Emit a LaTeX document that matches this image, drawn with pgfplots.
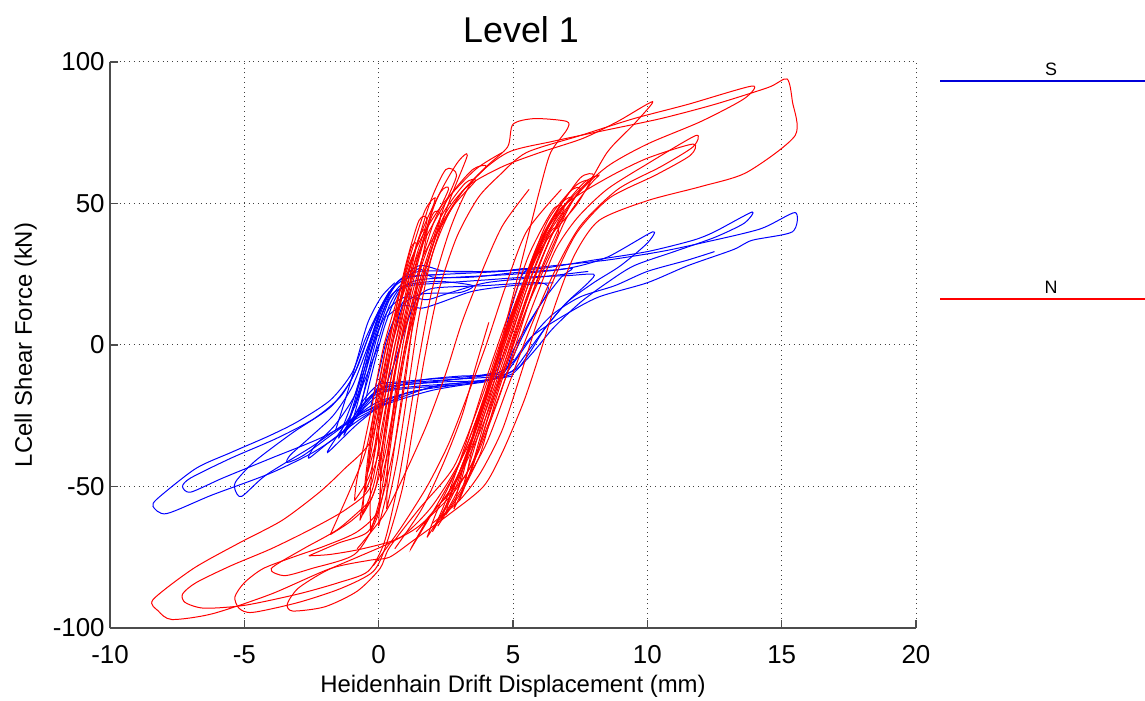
\documentclass[border=0pt]{standalone}
\usepackage{pgfplots}
\pgfplotsset{compat=1.18}
\usepackage{fontspec}
\setmainfont{Liberation Sans}
\begin{document}
\begin{tikzpicture}
\path[use as bounding box] (-55bp,-36.5bp) rectangle (517.5bp,314bp);
\begin{axis}[
 at={(0,0)}, anchor=south west,
 scale only axis, width=403bp, height=283bp,
 xmin=-10, xmax=20, ymin=-100, ymax=100,
 xtick={-10,-5,0,5,10,15,20}, ytick={-100,-50,0,50,100},
 axis x line=bottom, axis y line=left,
 axis line style={-, black!70, line width=0.6pt},
 tick align=inside, major tick length=4bp,
 tick style={black!70, line width=0.6pt},
 grid=major, grid style={black!75, dotted, line width=0.5pt},
 /pgf/number format/assume math mode=true,
 ticklabel style={font=\fontsize{13}{15}\selectfont},
 xticklabel style={anchor=north, inner sep=0pt, yshift=-8.5bp},
 yticklabel style={anchor=east, inner sep=0pt, xshift=-2.5bp},
 every axis title shift=0pt,
 title={Level 1},
 title style={font=\fontsize{18}{21}\selectfont, at={(axis description cs:0.51,1.0353)}, anchor=base},
 xlabel={Heidenhain Drift Displacement (mm)},
 xlabel style={font=\fontsize{12}{14}\selectfont, at={(axis description cs:0.5,-0.1148)}, anchor=base},
 ylabel={LCell Shear Force (kN)},
 ylabel style={font=\fontsize{12}{14}\selectfont, at={(axis description cs:-0.097,0.5)}, anchor=base},
 every axis plot/.append style={line width=0.5pt, mark=none, smooth, tension=0.45},
 clip=true,
]
% ---------------- S (blue) ----------------
\addplot[blue] coordinates {(-1.0,-28) (-0.6,-14) (-0.3,-2) (0.1,10) (0.5,18) (1.2,21) (2.5,22) (4,23) (5.5,24) (7,24.5) (8,25) (7.8,22) (7.0,15) (6.2,6) (5.6,-3) (5.0,-10) (4.0,-12.5) (2.5,-13) (1.0,-14) (0.2,-15) (-0.4,-19) (-1.0,-28)};
\addplot[blue] coordinates {(-0.7,-24) (-0.4,-10) (0.0,5) (0.4,16) (0.9,22) (1.5,27) (2,24) (3.5,24) (5,25.5) (6.5,26.5) (7.2,27) (6.8,24) (6.0,14) (5.3,2) (4.8,-8) (4.3,-12) (3,-14) (1.5,-15) (0.5,-16) (-0.2,-18) (-0.7,-24)};
\addplot[blue] coordinates {(-1.3,-32) (-0.9,-20) (-0.5,-5) (-0.1,8) (0.3,17) (0.8,23) (1.5,26) (3,26) (4.5,26) (5.5,27) (5.3,24) (4.9,12) (4.6,0) (4.4,-9) (3.5,-11) (2,-12) (0.8,-13) (0,-14) (-0.6,-20) (-1.3,-32)};
\addplot[blue] coordinates {(-0.8,-25) (-0.4,-12) (0.0,2) (0.4,14) (0.8,20) (1.5,23) (3,24) (5,25) (7,27) (8.5,31) (10.2,40) (10.0,36) (9.0,28) (8.0,22) (7.0,15) (6.2,6) (5.5,-3) (5.0,-9) (4.2,-12) (3,-13.5) (1.5,-14.5) (0.3,-16) (-0.3,-20) (-0.8,-25)};
\addplot[blue] coordinates {(-1.2,-30) (-0.7,-15) (-0.3,0) (0.2,13) (0.6,21) (1.5,28) (2.5,26) (4,26) (6,27) (8,30) (10,33) (11.7,37) (12.5,40) (13.9,47) (13.6,43) (12.5,38) (11,33) (9.5,28) (8.5,22) (7.5,15) (6.5,6) (5.8,-2) (5.2,-8) (4.5,-11) (3,-12) (1.5,-13) (0.4,-14) (-0.3,-18) (-1.2,-30)};
\addplot[blue] coordinates {(-1.5,-33) (-0.9,-18) (-0.4,-2) (0.1,12) (0.5,20) (1,24) (2.5,25) (4.5,26) (6.5,28) (8.5,30) (10.5,33) (12,36) (14.2,41) (15.5,46.8) (15.4,40) (13.9,37) (13.2,33.7) (11.5,28) (10,22) (8.2,17) (7,11) (5.7,3) (5.0,-6) (4.4,-10) (3,-12) (1.5,-13.5) (0.3,-15) (-0.5,-20) (-1.5,-33)};
\addplot[blue] coordinates {(-0.5,-20) (-0.2,-8) (0.2,6) (0.6,16) (1.0,21) (2.2,22.5) (3.5,21) (3,18.5) (1.6,18) (0.9,14) (0.6,4) (0.3,-8) (-0.1,-16) (-0.5,-20)};
\addplot[blue] coordinates {(0.2,-16) (0.6,-6) (1.0,6) (1.4,16) (2,20) (4,21) (6,22) (6.3,19) (5.6,8) (5.0,-2) (4.6,-10) (3.0,-11) (1.5,-12.5) (0.2,-16)};
\addplot[blue] coordinates {(0.3,10) (0.9,14) (1.6,13) (2.3,15) (3.5,19) (5,21) (6.5,22)};
\addplot[blue] coordinates {(-0.9,-22) (-0.5,-10) (-0.1,3) (0.4,13) (1.0,17) (1.8,16) (2.5,18) (4,22) (6,24) (7.8,26)};
\addplot[blue] coordinates {(4.6,-12) (5.2,-4) (5.8,4) (6.5,11) (7.5,17) (8.8,21) (10,26) (11.5,30) (12.5,33)};
\addplot[blue] coordinates {(-1.6,-30) (-1.2,-18) (-0.8,-5) (-0.4,8) (0.1,17) (0.6,22)};
\addplot[blue] coordinates {(-0.3,-22) (0.0,-10) (0.3,2) (0.7,12) (1.2,19)};
\addplot[blue] coordinates {(5,-11) (3.5,-13) (1.9,-15) (-0.6,-24) (-1.2,-30) (-2.45,-38) (-4.05,-45.4) (-6.2,-53) (-7.9,-59.6) (-8.4,-57) (-8.2,-54) (-6.8,-43.6) (-5.5,-38) (-4.05,-32) (-3.0,-27) (-1.8,-19.5) (-1.0,-10) (-0.5,2) (0.0,12) (0.5,20) (1.2,24) (2.5,25)};
\addplot[blue] coordinates {(4,-13) (2,-16) (0,-22) (-2.1,-32.6) (-4,-40) (-5.8,-47) (-7.0,-52) (-7.3,-50) (-7.0,-47) (-5.5,-40) (-3.8,-33) (-2.4,-26) (-1.4,-18) (-0.8,-8) (-0.3,5) (0.2,15) (0.7,22)};
\addplot[blue] coordinates {(3,-14) (1,-17) (-0.8,-25) (-2.5,-36) (-4.2,-46) (-5.1,-53.5) (-5.35,-51) (-5.3,-48) (-4.6,-41) (-3.2,-31) (-1.8,-22) (-1.0,-12) (-0.5,0) (0.0,12) (0.4,19)};
\addplot[blue] coordinates {(2,-15) (0,-20) (-1.5,-30) (-2.8,-39) (-3.4,-41.5) (-3.3,-39) (-2.6,-33) (-1.7,-25) (-1.0,-15) (-0.5,-3) (0,10)};
\addplot[blue] coordinates {(1,-17) (-0.5,-25) (-1.8,-34) (-2.6,-40) (-2.4,-36) (-1.6,-28) (-0.9,-18) (-0.4,-5) (0.1,8)};
\addplot[blue] coordinates {(0.5,-18) (-0.8,-28) (-1.9,-38) (-1.6,-33) (-1.0,-24) (-0.5,-12) (0,0)};
% ---------------- N (red) ----------------
\addplot[red] coordinates {(-0.6,-60) (-0.1,-50) (0.3,-25) (0.8,0) (1.6,25) (2.4,48) (2.9,60) (2.5,62) (1.9,50) (1.1,25) (0.3,0) (-0.2,-25) (-0.5,-48) (-0.6,-60)};
\addplot[red] coordinates {(-0.3,-66) (0.1,-52) (0.5,-27) (1.0,0) (1.8,26) (2.6,50) (3.3,67) (2.9,64) (2.1,50) (1.3,26) (0.5,0) (0.0,-26) (-0.3,-50) (-0.3,-66)};
\addplot[red] coordinates {(-0.9,-55) (-0.3,-45) (0.15,-22) (0.6,0) (1.3,25) (1.9,45) (2.1,52) (1.7,47) (1.0,26) (0.2,0) (-0.3,-24) (-0.8,-47) (-0.9,-55)};
\addplot[red] coordinates {(0.1,-48) (0.5,-30) (0.9,-5) (1.4,20) (1.8,40) (1.5,38) (0.9,18) (0.4,-5) (0.0,-30) (0.1,-48)};
\addplot[red] coordinates {(-1.8,-67) (-1.0,-62) (-0.3,-55) (0.2,-40) (0.6,-20) (1.0,0) (1.5,20) (2.2,40) (3.1,54) (4.0,63) (3.5,62) (2.6,52) (1.6,35) (0.8,15) (0.3,0) (-0.1,-20) (-0.5,-38) (-1.1,-52) (-1.8,-67)};
\addplot[red] coordinates {(-0.4,-45) (0.0,-30) (0.5,-5) (1.0,18) (1.4,35) (1.2,34) (0.7,15) (0.2,-8) (-0.2,-28) (-0.4,-45)};
\addplot[red] coordinates {(-0.7,-62) (-0.2,-50) (0.25,-30) (0.7,-5) (1.3,20) (2.0,42) (2.6,55) (2.3,54) (1.6,40) (0.9,20) (0.4,-2) (-0.1,-28) (-0.5,-50) (-0.7,-62)};
\addplot[red] coordinates {(0.3,-58) (0.7,-40) (1.1,-15) (1.5,10) (2.0,32) (2.7,48) (3.6,58) (3.2,57) (2.3,45) (1.6,28) (1.0,5) (0.6,-18) (0.35,-40) (0.3,-58)};
\addplot[red] coordinates {(-0.5,-52) (0.0,-38) (0.4,-15) (0.85,8) (1.3,28) (1.8,44) (1.5,44) (1.0,28) (0.5,6) (0.1,-15) (-0.3,-35) (-0.5,-52)};
\addplot[red] coordinates {(0.0,-64) (0.4,-48) (0.8,-22) (1.2,3) (1.7,25) (2.3,45) (2.0,46) (1.4,27) (0.9,5) (0.45,-20) (0.1,-45) (0.0,-64)};
\addplot[red] coordinates {(-2.6,-74.5) (-1.5,-70) (-0.4,-66) (0.1,-55) (0.6,-35) (1.0,-12) (1.3,10) (1.6,30) (2.4,43) (3.1,54) (4.0,63) (4.8,70) (5.0,78) (5.8,80) (7.0,79) (7.0,76) (6.4,68) (6.0,55) (5.6,40) (5.2,25) (4.8,10) (4.3,-8) (3.6,-30) (2.8,-45) (1.9,-58) (0.8,-68) (-0.6,-72) (-1.8,-74) (-2.6,-74.5)};
\addplot[red] coordinates {(2.3,-62) (3.0,-50) (3.7,-25) (4.6,0) (5.5,25) (6.5,45) (7.2,52) (6.8,50) (5.9,35) (5.0,12) (4.2,-10) (3.4,-35) (2.7,-52) (2.3,-62)};
\addplot[red] coordinates {(2.8,-58) (3.4,-45) (4.1,-22) (5.0,2) (5.8,24) (6.7,44) (7.5,55) (7.1,54) (6.2,40) (5.3,18) (4.5,-5) (3.7,-28) (3.1,-45) (2.8,-58)};
\addplot[red] coordinates {(1.8,-68) (2.6,-55) (3.5,-32) (4.3,-8) (5.1,15) (6.0,35) (7.0,50) (7.8,58) (7.3,56) (6.3,44) (5.4,22) (4.7,2) (3.9,-20) (3.0,-42) (2.2,-58) (1.8,-68)};
\addplot[red] coordinates {(3.2,-50) (3.8,-38) (4.4,-18) (5.2,5) (6.0,25) (6.7,40) (6.4,40) (5.6,22) (4.9,3) (4.1,-18) (3.5,-36) (3.2,-50)};
\addplot[red] coordinates {(2.5,-60) (3.3,-48) (4.0,-28) (4.8,-5) (5.6,18) (6.4,38) (7.3,52) (8.0,60) (7.5,59) (6.5,45) (5.7,28) (4.9,6) (4.1,-16) (3.3,-38) (2.7,-52) (2.5,-60)};
\addplot[red] coordinates {(3.0,-55) (3.6,-40) (4.3,-18) (5.0,3) (5.7,22) (6.4,38) (6.9,46) (6.5,45) (5.8,30) (5.1,10) (4.4,-10) (3.7,-32) (3.2,-48) (3.0,-55)};
\addplot[red] coordinates {(2.0,-66) (2.8,-52) (3.6,-30) (4.4,-6) (5.2,16) (6.1,36) (6.9,48) (6.5,48) (5.6,32) (4.8,10) (4.0,-12) (3.2,-36) (2.5,-55) (2.0,-66)};
\addplot[red] coordinates {(-0.2,-78) (0.8,-65) (1.8,-50) (2.6,-35) (3.3,-18) (4.0,0) (4.7,20) (5.5,40) (6.8,55)};
\addplot[red] coordinates {(-0.8,-72) (0.2,-60) (1.0,-45) (1.8,-28) (2.5,-10) (3.1,8) (3.8,25) (4.6,42) (5.6,55)};
\addplot[red] coordinates {(0.6,-72) (1.6,-58) (2.4,-42) (3.1,-25) (3.6,-8) (4.1,8)};
\addplot[red] coordinates {(-0.3,-55) (-1.5,-65) (-2.8,-72) (-4.0,-79) (-3.5,-81.5) (-2.5,-79) (-0.9,-74) (-0.1,-62) (0.25,-48) (0.6,-25) (1.05,0) (1.7,25) (2.4,45) (3.3,56) (4.6,63) (6.0,68) (7.6,73) (8.9,79) (10.2,86) (9.5,78) (8.5,68) (7.4,50) (6.1,35) (5.3,18) (4.6,0) (3.8,-22) (3.0,-42) (2.2,-56) (1.2,-72) (1.8,-62) (2.9,-48) (3.8,-30) (4.8,-5) (5.6,15) (6.4,32) (7.0,45) (7.9,57) (8.2,60) (7.6,57) (6.6,45) (5.7,25) (5.0,5) (4.3,-15) (3.5,-35) (2.6,-52) (1.4,-66) (2.1,-58) (3.3,-45) (4.2,-25) (5.1,-2) (5.9,18) (6.6,34) (7.4,45) (8.5,55) (10,64) (11.8,74) (11.7,70) (10.5,63) (8.9,55) (7.5,42) (6.5,25) (5.6,5) (4.8,-15) (4.0,-35) (3.0,-52) (2.2,-64)};
\addplot[red] coordinates {(1.0,10) (0.5,-15) (0.1,-40) (0.0,-58) (-0.8,-66) (-2.0,-71) (-3.2,-75) (-4.3,-79) (-5.0,-84) (-5.35,-89) (-5.2,-93) (-4.7,-94.5) (-3.0,-91) (-1.4,-86) (-0.2,-80) (0.3,-70) (0.9,-50) (1.3,-28) (1.7,-5) (2.2,18) (2.9,38) (3.7,52) (4.5,60) (5.5,68) (7.5,74) (9.5,80) (11.5,85) (13.9,91.5) (13.6,87) (12,79) (10,71) (8.5,63) (7.3,52) (6.4,35) (5.7,18) (5.1,0) (4.5,-18) (3.7,-38) (2.8,-52) (1.5,-64) (0.4,-70) (-0.8,-75) (-2.0,-80) (-3.0,-86) (-3.4,-91.5) (-3.2,-94) (-2.0,-92.5) (-0.8,-87) (0.05,-79) (0.4,-71.6) (1.5,-58) (2.8,-43) (3.8,-19.5) (4.5,0) (5.3,20) (6.1,38) (7.0,50) (8.5,59) (10,66) (11.7,71) (11.6,67) (10.3,60) (8.6,52) (7.4,40) (6.6,25) (5.9,8) (5.3,-10) (4.6,-30) (3.8,-45) (3.0,-55) (2.0,-63)};
\addplot[red] coordinates {(1.2,20) (0.6,-5) (0.1,-30) (-0.3,-50) (-1.2,-58) (-2.5,-65) (-4,-72) (-5.5,-78) (-6.8,-84) (-7.3,-88) (-7.2,-91) (-6.5,-93) (-5.0,-92) (-3.0,-88) (-1.5,-84) (-0.4,-80) (0.2,-70) (0.7,-50) (1.1,-28) (1.5,-5) (2.0,20) (2.7,42) (3.5,58) (4.8,68) (6.5,72) (8.5,76) (10.5,80) (12.5,85) (14.5,91) (15.2,94) (15.4,86) (15.5,74) (13.7,61) (12,56) (10,51) (8.2,44) (7.3,32) (6.6,15) (6.0,-3) (5.4,-20) (4.6,-38) (3.9,-50) (2.6,-60) (1.3,-69) (0.4,-75) (-0.3,-76) (-1.8,-79) (-4.0,-88) (-6.2,-95) (-7.7,-97) (-8.2,-94) (-8.4,-90) (-6.9,-79) (-5.2,-70) (-3.6,-62) (-2.2,-52) (-1.3,-44) (-0.3,-34) (0.2,-15) (0.6,5) (1.0,25) (1.6,38) (2.4,50) (3.6,62) (4.6,68)};
\end{axis}
\draw[blue!85!black, line width=0.6pt] (415bp,273.5bp) -- (517.5bp,273.5bp);
\draw[red, line width=0.6pt] (415bp,164.5bp) -- (517.5bp,164.5bp);
\node[anchor=base, inner sep=0pt, font=\fontsize{9}{10}\selectfont] at (470.5bp,276bp) {S};
\node[anchor=base, inner sep=0pt, font=\fontsize{9}{10}\selectfont] at (470.5bp,167bp) {N};
\end{tikzpicture}
\end{document}
